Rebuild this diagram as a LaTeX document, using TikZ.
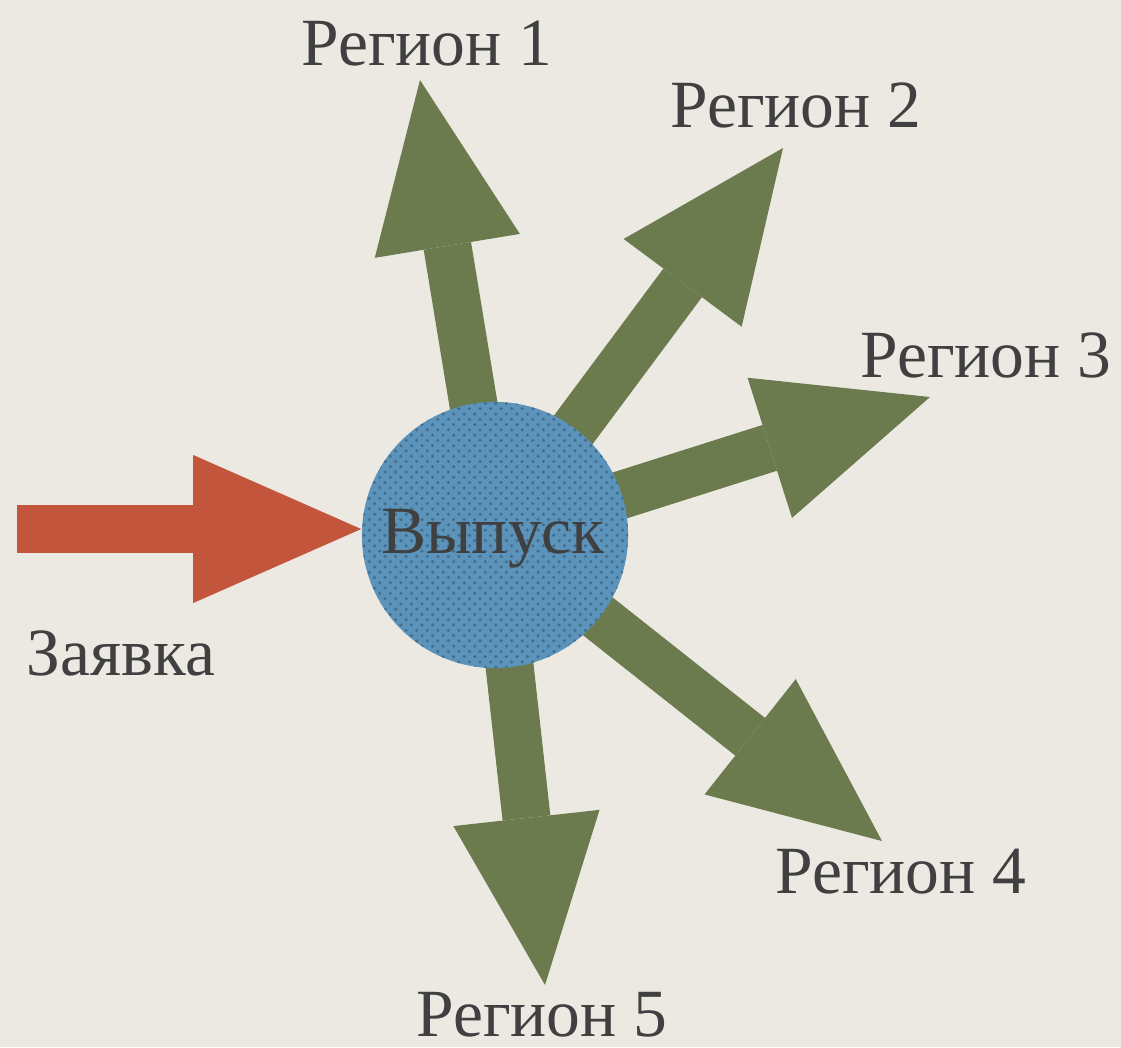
\documentclass[tikz,border=0pt]{standalone}
\usepackage{fontspec}
\setmainfont{Liberation Serif}
\usetikzlibrary{arrows.meta, patterns}
\definecolor{paper}{HTML}{ECE9E3}
\definecolor{grn}{HTML}{6B7B4D}
\definecolor{rd}{HTML}{C4553D}
\definecolor{blu}{HTML}{5B93BB}
\definecolor{txt}{HTML}{404040}

\begin{document}
\begin{tikzpicture}[x=0.01cm, y=-0.01cm,
  lbl/.style={anchor=base, text=txt, font=\fontsize{19.2}{22}\selectfont},
  outarr/.style={draw=grn, line width=0.48cm, -{Triangle[width=1.47cm, length=1.68cm, line width=0pt]}}]
\fill[paper] (0,0) rectangle (1121,1047);
\useasboundingbox (0,0) rectangle (1121,1047);
\coordinate (c) at (495,535);
\coordinate (r1) at (420,80);
\coordinate (r2) at (783,148);
\coordinate (r3) at (930,397);
\coordinate (r4) at (882,841);
\coordinate (r5) at (545,985);
\coordinate (z0) at (17,529);
% Arrows
\draw[outarr] (c)--(r1);
\draw[outarr] (c)--(r2);
\draw[outarr] (c)--(r3);
\draw[outarr] (c)--(r4);
\draw[outarr] (c)--(r5);
\node[circle, minimum size=2.66cm, inner sep=0, fill=blu,
  postaction={pattern=crosshatch dots, pattern color=blu!75!black}] (vyp) at (c) {};
\draw[draw=rd, line width=0.48cm, -{Triangle[width=1.48cm, length=1.68cm, line width=0pt]}] (z0)--(z0 -| vyp.west);
% Labels
\node[lbl] (tv) at (493,553) {Выпуск};
\node[lbl] (tz) at (121,675) {Заявка};
\node[lbl] (t1) at (427,65) {Регион 1};
\node[lbl] (t2) at (796,127) {Регион 2};
\node[lbl] (t3) at (986,377) {Регион 3};
\node[lbl] (t4) at (901,893) {Регион 4};
\node[lbl] (t5) at (542,1036) {Регион 5};
\end{tikzpicture}
\end{document}
